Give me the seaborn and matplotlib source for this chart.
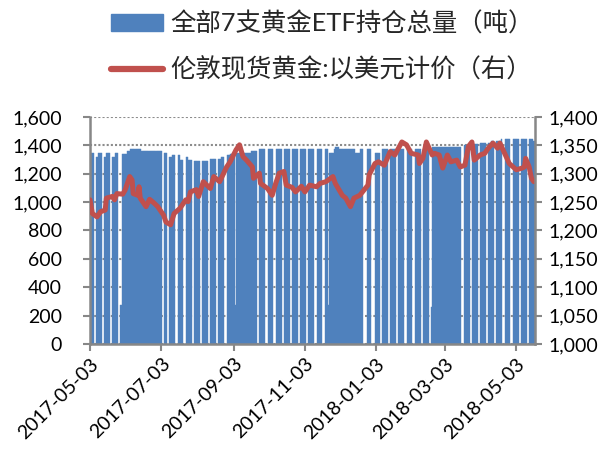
import pandas as pd
import numpy as np
import seaborn as sns
import matplotlib.pyplot as plt
import matplotlib.dates as mdates
from matplotlib.patches import Patch
from matplotlib.lines import Line2D
from matplotlib.ticker import FuncFormatter

# ETF holdings (tonnes): value changes
hold_dates = ['2017-05-03', '2017-05-08', '2017-05-10', '2017-05-15', '2017-05-17', '2017-05-22',
              '2017-05-24', '2017-05-30', '2017-06-04', '2017-06-06', '2017-06-16', '2017-07-05',
              '2017-07-10', '2017-07-12', '2017-07-19', '2017-07-24', '2017-07-26', '2017-07-31',
              '2017-08-07', '2017-08-14', '2017-08-23', '2017-08-28', '2017-08-31', '2017-09-02',
              '2017-09-18', '2017-09-25', '2017-11-24', '2017-11-28', '2017-11-29', '2017-12-02',
              '2017-12-16', '2017-12-20', '2018-01-01', '2018-01-08', '2018-02-20', '2018-03-19',
              '2018-03-26', '2018-04-02', '2018-04-11', '2018-04-20', '2018-05-17']
hold_vals = [1348, 1320, 1348, 1320, 1348, 1320,
             1348, 1337, 1360, 1374, 1360, 1348,
             1320, 1330, 1295, 1316, 1297, 1292,
             1290, 1305, 1320, 1330, 1340, 1348,
             1360, 1374, 1344, 1374, 1388, 1374,
             1344, 1374, 1344, 1374, 1388, 1400,
             1408, 1414, 1430, 1443, 1432]
hold_end = '2018-05-18'

# periods where weekend days also carry a bar
solid_starts = ['2017-05-29', '2017-08-28', '2017-11-20', '2018-02-19']
solid_ends = ['2017-07-03', '2017-09-22', '2017-12-22', '2018-03-16']
# days without data
missing_days = ['2017-07-04', '2017-12-25', '2018-01-01']
# short bars on holidays
low_dates = ['2017-05-29', '2017-09-04', '2017-11-23', '2018-02-19']
low_vals = [275, 275, 275, 263]

# London spot gold (USD)
price_dates = ['2017-05-03', '2017-05-05', '2017-05-09', '2017-05-12', '2017-05-16', '2017-05-17',
               '2017-05-22', '2017-05-24', '2017-05-26', '2017-05-31', '2017-06-02', '2017-06-06',
               '2017-06-08', '2017-06-09', '2017-06-13', '2017-06-14', '2017-06-15', '2017-06-20',
               '2017-06-23', '2017-06-27', '2017-06-30',
               '2017-07-05', '2017-07-07', '2017-07-11', '2017-07-14', '2017-07-19', '2017-07-24',
               '2017-07-26', '2017-07-28', '2017-08-02', '2017-08-04', '2017-08-08', '2017-08-14',
               '2017-08-17', '2017-08-22', '2017-08-28', '2017-08-31',
               '2017-09-05', '2017-09-08', '2017-09-11', '2017-09-14', '2017-09-19', '2017-09-20',
               '2017-09-25', '2017-09-26', '2017-10-02', '2017-10-06', '2017-10-09', '2017-10-12',
               '2017-10-16', '2017-10-18', '2017-10-23', '2017-10-26', '2017-10-31',
               '2017-11-03', '2017-11-07', '2017-11-13', '2017-11-16', '2017-11-21', '2017-11-27',
               '2017-11-29', '2017-12-05', '2017-12-08', '2017-12-12', '2017-12-15', '2017-12-20',
               '2017-12-27', '2017-12-28', '2018-01-02',
               '2018-01-05', '2018-01-10', '2018-01-15', '2018-01-19', '2018-01-25', '2018-01-29',
               '2018-02-02', '2018-02-08', '2018-02-09', '2018-02-12', '2018-02-15', '2018-02-20',
               '2018-02-22', '2018-02-26', '2018-03-01',
               '2018-03-05', '2018-03-08', '2018-03-13', '2018-03-16', '2018-03-20', '2018-03-23',
               '2018-03-26', '2018-03-28', '2018-04-02', '2018-04-06', '2018-04-09', '2018-04-13',
               '2018-04-17', '2018-04-19', '2018-04-23', '2018-04-27', '2018-05-03', '2018-05-08',
               '2018-05-10', '2018-05-11', '2018-05-14', '2018-05-16', '2018-05-18']
price_vals = [1254, 1230, 1224, 1233, 1236, 1257, 1260, 1254, 1265, 1264, 1271, 1295,
              1289, 1265, 1262, 1277, 1257, 1242, 1255, 1248, 1242,
              1227, 1215, 1210, 1230, 1239, 1254, 1251, 1268, 1272, 1260, 1286, 1274,
              1295, 1286, 1312, 1321,
              1342, 1351, 1330, 1324, 1312, 1292, 1301, 1283, 1274, 1262, 1283, 1301,
              1304, 1280, 1276, 1268, 1278,
              1268, 1280, 1277, 1283, 1286, 1295, 1283, 1262, 1257, 1242, 1257, 1262,
              1280, 1298, 1318,
              1321, 1315, 1339, 1333, 1356, 1351, 1336, 1333, 1318, 1327, 1356, 1333,
              1336, 1333, 1310,
              1333, 1321, 1324, 1312, 1315, 1348, 1356, 1324, 1333, 1336, 1345, 1354,
              1345, 1354, 1336, 1318, 1307, 1310, 1312, 1327, 1312, 1292, 1286]

tick_dates = ['2017-05-03', '2017-07-03', '2017-09-03', '2017-11-03',
              '2018-01-03', '2018-03-03', '2018-05-03']

label_bar = '全部7支黄金ETF持仓总量（吨）'
label_line = '伦敦现货黄金:以美元计价（右）'

BLUE = '#4F81BD'
RED = '#C0504D'
GREY = '#878787'

# daily holdings series from the step values
days = pd.date_range(hold_dates[0], hold_end, freq='D')
hold = pd.Series(hold_vals, index=pd.to_datetime(hold_dates)).reindex(days).ffill()
keep = days.dayofweek < 5
for s, e in zip(solid_starts, solid_ends):
    keep |= (days >= s) & (days <= e)
keep &= ~days.isin(pd.to_datetime(missing_days))
hold = hold[keep]
hold.loc[pd.to_datetime(low_dates)] = low_vals

price_df = pd.DataFrame({'date': pd.to_datetime(price_dates), 'price': price_vals})

sns.set_style("white")
plt.rcParams['font.family'] = ['Lato', 'Noto Sans CJK SC', 'DejaVu Sans']

fig = plt.figure(figsize=(6.14, 4.54), dpi=100)
ax = fig.add_axes([0.1466, 0.2423, 0.7247, 0.5])

ax.bar(hold.index, hold.values, width=1.0, align='edge', color=BLUE,
       edgecolor=BLUE, linewidth=0.3)
ax.set_ylim(0, 1600)
ax.set_yticks(np.arange(0, 1601, 200))
ax.yaxis.grid(True, linestyle=(0, (1, 1)), color='#8c8c8c', linewidth=1.5)
ax.set_axisbelow(True)

ax2 = ax.twinx()
sns.lineplot(data=price_df, x='date', y='price', ax=ax2, color=RED, linewidth=3.6,
             solid_capstyle='round', solid_joinstyle='round')
ax2.set_ylim(1000, 1400)
ax2.set_yticks(np.arange(1000, 1401, 50))
ax2.set_ylabel('')
ax.set_xlabel('')
ax2.set_xlabel('')

ax.set_xlim(pd.Timestamp('2017-05-03'), pd.Timestamp('2018-05-19'))
ax.set_xticks(pd.to_datetime(tick_dates))
ax.xaxis.set_major_formatter(mdates.DateFormatter('%Y-%m-%d'))
plt.setp(ax.get_xticklabels(), rotation=45, ha='right', va='top', rotation_mode='anchor')

fmt = FuncFormatter(lambda v, p: format(int(v), ','))
ax.yaxis.set_major_formatter(fmt)
ax2.yaxis.set_major_formatter(fmt)

for a in (ax, ax2):
    for side in ('top', 'left', 'right', 'bottom'):
        a.spines[side].set_visible(False)
    a.tick_params(labelsize=14, colors='black', length=5, width=1.5, color=GREY, pad=5)
ax.spines['left'].set_visible(True)
ax.spines['bottom'].set_visible(True)
ax2.spines['right'].set_visible(True)
for sp in (ax.spines['left'], ax.spines['bottom'], ax2.spines['right']):
    sp.set_color(GREY)
    sp.set_linewidth(1.8)
ax.tick_params(axis='x', bottom=True, length=5, pad=3)
ax.tick_params(axis='y', left=True, pad=15)
ax2.tick_params(axis='y', right=True)

handles = [Patch(facecolor=BLUE, edgecolor=BLUE),
           Line2D([], [], color=RED, linewidth=4.5, solid_capstyle='round')]
fig.legend(handles, [label_bar, label_line], loc='upper left',
           bbox_to_anchor=(111 / 614, 1 - 11 / 454), frameon=False, fontsize=18.3,
           borderpad=0, borderaxespad=0, handlelength=2.05, handleheight=0.66,
           labelspacing=0.85, handletextpad=0.3)

fig.savefig('out.png', dpi=100)
